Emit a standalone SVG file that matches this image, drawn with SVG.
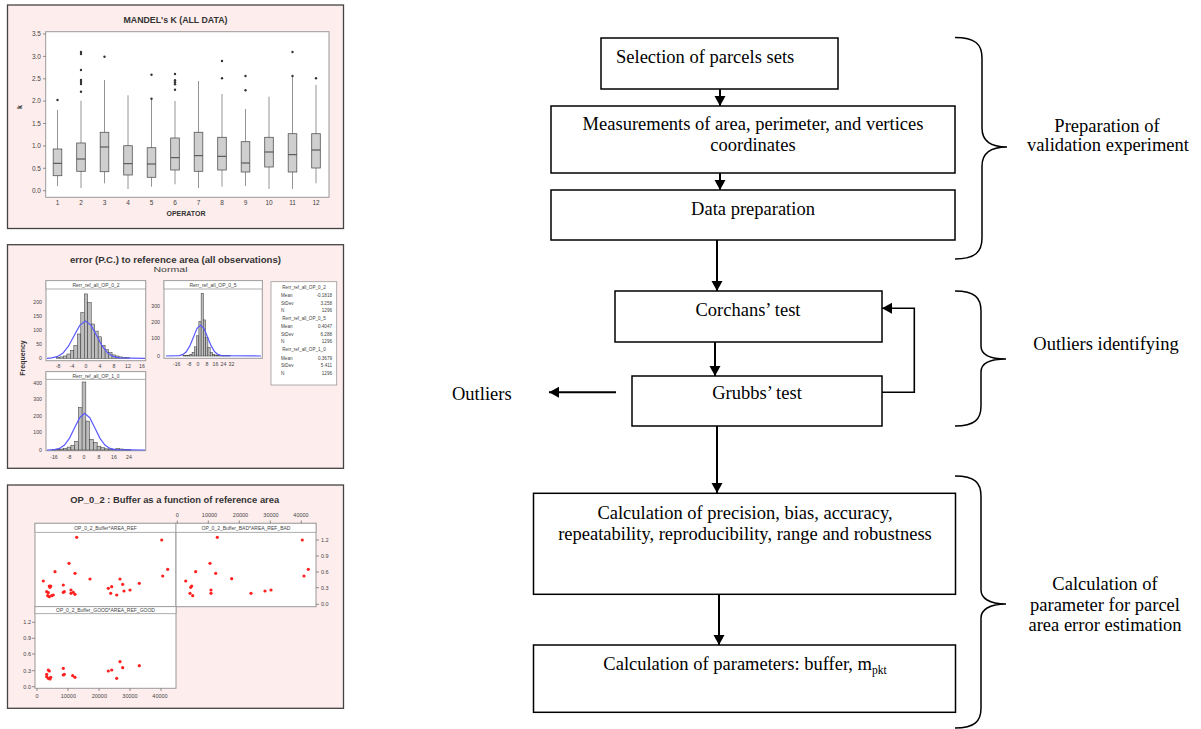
<svg xmlns="http://www.w3.org/2000/svg" width="1201" height="729" viewBox="0 0 1201 729">
<style>
.panel{fill:#fdeded;stroke:#444;stroke-width:1.3}
.plot{fill:#fff;stroke:#999;stroke-width:1}
.hdr{fill:#fff;stroke:#999;stroke-width:0.8}
.t{font-family:"Liberation Sans",Arial,sans-serif;fill:#444}
.tb{font-family:"Liberation Sans",Arial,sans-serif;fill:#333;font-weight:bold}
.box{fill:#cfcfcf;stroke:#555;stroke-width:0.8}
.wh{stroke:#888;stroke-width:0.9}
.med{stroke:#444;stroke-width:1}
.out{fill:#333}
.bar{fill:#bdbdbd;stroke:#333;stroke-width:0.5}
.curve{fill:none;stroke:#5a5aff;stroke-width:1.2}
.pt{fill:#ff2020}
.tick{stroke:#666;stroke-width:0.7}
.node rect{fill:#fff;stroke:#000;stroke-width:1.5}
.ft{font-family:"Liberation Serif","Times New Roman",serif;font-size:18.5px;fill:#000}
.conn{stroke:#000;stroke-width:2;fill:none}
.brace{stroke:#000;stroke-width:1.5;fill:none}
</style>
<defs>
<marker id="arr" markerUnits="userSpaceOnUse" markerWidth="11" markerHeight="12" refX="10" refY="5.5" orient="auto">
<path d="M0,0 L10,5.5 L0,11 z" fill="#000"/>
</marker>
</defs>
<rect width="1201" height="729" fill="#fff"/>

<!-- Chart 1: Mandel's k -->
<g id="chart-mandel">
<rect class="panel" x="7.5" y="5" width="336" height="223.5"/>
<text class="tb" x="175.5" y="23" font-size="8.5" text-anchor="middle" textLength="104" lengthAdjust="spacingAndGlyphs">MANDEL's K (ALL DATA)</text>
<rect class="plot" x="45.7" y="31.7" width="283.3" height="165.6"/>
<g class="t" font-size="6.5" text-anchor="end">
<text x="41" y="36.3">3.5</text><text x="41" y="58.7">3.0</text><text x="41" y="81.1">2.5</text><text x="41" y="103.4">2.0</text>
<text x="41" y="125.8">1.5</text><text x="41" y="148.3">1.0</text><text x="41" y="170.6">0.5</text><text x="41" y="193">0.0</text>
</g>
<g class="tick">
<line x1="43" y1="34" x2="45.7" y2="34"/><line x1="43" y1="56.4" x2="45.7" y2="56.4"/><line x1="43" y1="78.8" x2="45.7" y2="78.8"/><line x1="43" y1="101.1" x2="45.7" y2="101.1"/>
<line x1="43" y1="123.5" x2="45.7" y2="123.5"/><line x1="43" y1="146" x2="45.7" y2="146"/><line x1="43" y1="168.3" x2="45.7" y2="168.3"/><line x1="43" y1="190.7" x2="45.7" y2="190.7"/>
</g>
<text class="tb" font-size="7" transform="translate(21.5,107) rotate(-90)" text-anchor="middle">k</text>
<g class="t" font-size="6.5" text-anchor="middle">
<text x="57.5" y="205">1</text><text x="81" y="205">2</text><text x="104.5" y="205">3</text><text x="128" y="205">4</text>
<text x="151.5" y="205">5</text><text x="175" y="205">6</text><text x="198.5" y="205">7</text><text x="222" y="205">8</text>
<text x="245.5" y="205">9</text><text x="269" y="205">10</text><text x="292.5" y="205">11</text><text x="316" y="205">12</text>
</g>
<text class="tb" x="186" y="215.5" font-size="6.5" text-anchor="middle" textLength="39" lengthAdjust="spacingAndGlyphs">OPERATOR</text>
<g class="wh">
<line x1="57.5" y1="110" x2="57.5" y2="186"/><line x1="81" y1="100.7" x2="81" y2="188"/><line x1="104.5" y1="80" x2="104.5" y2="183.3"/>
<line x1="128" y1="95.3" x2="128" y2="189"/><line x1="151.5" y1="100" x2="151.5" y2="186.7"/><line x1="175" y1="101" x2="175" y2="184.3"/>
<line x1="198.5" y1="81" x2="198.5" y2="188"/><line x1="222" y1="94" x2="222" y2="186.7"/><line x1="245.5" y1="109" x2="245.5" y2="186"/>
<line x1="269" y1="96.7" x2="269" y2="189"/><line x1="292.5" y1="76" x2="292.5" y2="189"/><line x1="316" y1="85" x2="316" y2="183.3"/>
</g>
<g>
<rect class="box" x="53.2" y="149" width="8.6" height="26.7"/><rect class="box" x="76.7" y="143" width="8.6" height="28.3"/>
<rect class="box" x="100.2" y="132.3" width="8.6" height="39.4"/><rect class="box" x="123.7" y="145.7" width="8.6" height="29.3"/>
<rect class="box" x="147.2" y="147.7" width="8.6" height="29.6"/><rect class="box" x="170.7" y="138" width="8.6" height="32"/>
<rect class="box" x="194.2" y="132.3" width="8.6" height="39"/><rect class="box" x="217.7" y="137.3" width="8.6" height="32.7"/>
<rect class="box" x="241.2" y="141.7" width="8.6" height="30.3"/><rect class="box" x="264.7" y="137.3" width="8.6" height="29.7"/>
<rect class="box" x="288.2" y="133.7" width="8.6" height="38.3"/><rect class="box" x="311.7" y="133.7" width="8.6" height="34.3"/>
</g>
<g class="med">
<line x1="53.2" y1="163.3" x2="61.8" y2="163.3"/><line x1="76.7" y1="159" x2="85.3" y2="159"/><line x1="100.2" y1="147" x2="108.8" y2="147"/>
<line x1="123.7" y1="163.7" x2="132.3" y2="163.7"/><line x1="147.2" y1="164" x2="155.8" y2="164"/><line x1="170.7" y1="157.7" x2="179.3" y2="157.7"/>
<line x1="194.2" y1="155.7" x2="202.8" y2="155.7"/><line x1="217.7" y1="156.3" x2="226.3" y2="156.3"/><line x1="241.2" y1="163" x2="249.8" y2="163"/>
<line x1="264.7" y1="152" x2="273.3" y2="152"/><line x1="288.2" y1="154.7" x2="296.8" y2="154.7"/><line x1="311.7" y1="150" x2="320.3" y2="150"/>
</g>
<g class="out">
<circle cx="57.5" cy="100" r="1.2"/>
<circle cx="81" cy="52" r="1.2"/><circle cx="81" cy="54" r="1.2"/><circle cx="81" cy="70" r="1.2"/><circle cx="81" cy="80" r="1.2"/><circle cx="81" cy="82" r="1.2"/><circle cx="81" cy="84" r="1.2"/><circle cx="81" cy="91.7" r="1.2"/>
<circle cx="104.5" cy="56.7" r="1.2"/>
<circle cx="151.5" cy="74.7" r="1.2"/><circle cx="151.5" cy="98.7" r="1.2"/>
<circle cx="175" cy="74" r="1.2"/><circle cx="175" cy="80.3" r="1.2"/><circle cx="175" cy="82.2" r="1.2"/><circle cx="175" cy="84.3" r="1.2"/><circle cx="175" cy="89.7" r="1.2"/>
<circle cx="222" cy="61" r="1.2"/><circle cx="222" cy="78.3" r="1.2"/>
<circle cx="245.5" cy="76" r="1.2"/><circle cx="245.5" cy="90.3" r="1.2"/>
<circle cx="292.5" cy="52" r="1.2"/><circle cx="292.5" cy="76" r="1.2"/>
<circle cx="316" cy="78.3" r="1.2"/>
</g>
</g>

<!-- Chart 2: histograms -->
<g id="chart-hist">
<rect class="panel" x="7.5" y="244.7" width="336" height="223.6"/>
<text class="tb" x="175.5" y="263" font-size="9" text-anchor="middle" textLength="211" lengthAdjust="spacingAndGlyphs">error (P.C.) to reference area (all observations)</text>
<text class="t" x="170.5" y="272" font-size="6.5" text-anchor="middle" textLength="34" lengthAdjust="spacingAndGlyphs">Normal</text>
<text class="tb" font-size="7" transform="translate(24.5,358) rotate(-90)" text-anchor="middle">Frequency</text>
<!-- subplot A -->
<rect class="plot" x="46" y="280.7" width="99.7" height="80"/>
<rect class="hdr" x="46" y="280.7" width="99.7" height="8.3"/>
<text class="t" x="96" y="287" font-size="5" text-anchor="middle">Rerr_ref_all_OP_0_2</text>
<g class="t" font-size="5.2" text-anchor="end">
<text x="42" y="303.5">200</text><text x="42" y="317.5">150</text><text x="42" y="331.8">100</text><text x="42" y="346.1">50</text><text x="42" y="360.1">0</text>
</g>
<g class="t" font-size="5.2" text-anchor="middle">
<text x="58" y="368">-8</text><text x="72" y="368">-4</text><text x="86" y="368">0</text><text x="100" y="368">4</text><text x="114" y="368">8</text><text x="128" y="368">12</text><text x="142" y="368">16</text>
</g>
<g class="bar">
<rect x="56.46" y="357.4" width="3.475" height="0.9"/><rect x="59.94" y="356.9" width="3.475" height="1.4"/><rect x="63.41" y="356" width="3.475" height="2.3"/>
<rect x="66.89" y="354" width="3.475" height="4.3"/><rect x="70.36" y="350.3" width="3.475" height="8"/><rect x="73.84" y="345.4" width="3.475" height="12.9"/>
<rect x="77.31" y="334" width="3.475" height="24.3"/><rect x="80.79" y="312.5" width="3.475" height="45.8"/><rect x="84.26" y="293.9" width="3.475" height="64.4"/>
<rect x="87.74" y="302.5" width="3.475" height="55.8"/><rect x="91.21" y="324" width="3.475" height="34.3"/><rect x="94.69" y="331.1" width="3.475" height="27.2"/>
<rect x="98.16" y="336.8" width="3.475" height="21.5"/><rect x="101.64" y="345.4" width="3.475" height="12.9"/><rect x="105.11" y="349.7" width="3.475" height="8.6"/>
<rect x="108.59" y="352.6" width="3.475" height="5.7"/><rect x="112.06" y="354.9" width="3.475" height="3.4"/><rect x="115.54" y="356" width="3.475" height="2.3"/>
<rect x="119.01" y="356.9" width="3.475" height="1.4"/><rect x="122.49" y="357.4" width="3.475" height="0.9"/><rect x="125.96" y="357.7" width="3.475" height="0.6"/>
</g>
<polyline class="curve" points="47,358.3 51.5,357.9 57.15,356.7 62.8,353.3 68.45,346.2 74.1,335.7 79.75,325.4 85.4,321 91.05,325.4 96.7,335.7 102.35,346.2 108,353.3 113.65,356.7 119.3,357.9 145,358.3"/>
<!-- subplot B -->
<rect class="plot" x="164" y="280.7" width="98.3" height="77.6"/>
<rect class="hdr" x="164" y="280.7" width="98.3" height="8.3"/>
<text class="t" x="213" y="287" font-size="5" text-anchor="middle">Rerr_ref_all_OP_0_5</text>
<g class="t" font-size="5.2" text-anchor="end">
<text x="160" y="307.5">300</text><text x="160" y="323.5">200</text><text x="160" y="339.5">100</text><text x="160" y="357.8">0</text>
</g>
<g class="t" font-size="5.2" text-anchor="middle">
<text x="176.7" y="366">-16</text><text x="189" y="366">-8</text><text x="198" y="366">0</text><text x="207" y="366">8</text><text x="215.5" y="366">16</text><text x="223.5" y="366">24</text><text x="231.5" y="366">32</text>
</g>
<g class="bar">
<rect x="183.05" y="355.6" width="2.26" height="0.4"/><rect x="185.31" y="355.5" width="2.26" height="0.5"/><rect x="187.57" y="355.2" width="2.26" height="0.8"/>
<rect x="189.83" y="354.3" width="2.26" height="1.7"/><rect x="192.09" y="352.3" width="2.26" height="3.7"/><rect x="194.35" y="346.8" width="2.26" height="9.2"/>
<rect x="196.61" y="335.8" width="2.26" height="20.2"/><rect x="198.87" y="321.6" width="2.26" height="34.4"/><rect x="201.13" y="293.3" width="2.26" height="62.7"/>
<rect x="203.39" y="319.9" width="2.26" height="36.1"/><rect x="205.65" y="337.5" width="2.26" height="18.5"/><rect x="207.91" y="347.6" width="2.26" height="8.4"/>
<rect x="210.17" y="352.3" width="2.26" height="3.7"/><rect x="212.43" y="354.3" width="2.26" height="1.7"/><rect x="214.69" y="355" width="2.26" height="1"/>
<rect x="216.95" y="355.3" width="2.26" height="0.7"/><rect x="219.21" y="355.5" width="2.26" height="0.5"/><rect x="221.47" y="355.6" width="2.26" height="0.4"/>
<rect x="223.73" y="355.6" width="2.26" height="0.4"/><rect x="226" y="355.6" width="2.26" height="0.4"/><rect x="228.25" y="355.6" width="2.26" height="0.4"/>
</g>
<polyline class="curve" points="166,356 179.2,355.66 182.75,354.6 186.3,351.8 189.85,345.9 193.4,337.2 196.95,328.6 200.5,325 204.05,328.6 207.6,337.2 211.15,345.9 214.7,351.8 218.25,354.6 221.8,355.66 261,356"/>
<!-- subplot C -->
<rect class="plot" x="46" y="371.7" width="99.7" height="79"/>
<rect class="hdr" x="46" y="371.7" width="99.7" height="7.6"/>
<text class="t" x="96" y="377.6" font-size="5" text-anchor="middle">Rerr_ref_all_OP_1_0</text>
<g class="t" font-size="5.2" text-anchor="end">
<text x="42" y="384.5">400</text><text x="42" y="401">300</text><text x="42" y="417.5">200</text><text x="42" y="434">100</text><text x="42" y="451.8">0</text>
</g>
<g class="t" font-size="5.2" text-anchor="middle">
<text x="54" y="459">-16</text><text x="69" y="459">-8</text><text x="84" y="459">0</text><text x="99" y="459">8</text><text x="114" y="459">16</text><text x="129" y="459">24</text>
</g>
<g class="bar">
<rect x="52.1" y="449.6" width="3.75" height="0.4"/><rect x="55.9" y="449.4" width="3.75" height="0.6"/><rect x="59.6" y="449" width="3.75" height="1"/>
<rect x="63.4" y="448.5" width="3.75" height="1.5"/><rect x="67.1" y="447.1" width="3.75" height="2.9"/><rect x="70.9" y="445.2" width="3.75" height="4.8"/>
<rect x="74.6" y="441.3" width="3.75" height="8.7"/><rect x="78.4" y="407.5" width="3.75" height="42.5"/><rect x="82.1" y="382" width="3.75" height="68"/>
<rect x="85.9" y="421.1" width="3.75" height="28.9"/><rect x="89.6" y="439.4" width="3.75" height="10.6"/><rect x="93.4" y="442.3" width="3.75" height="7.7"/>
<rect x="97.1" y="446.2" width="3.75" height="3.8"/><rect x="100.9" y="447.7" width="3.75" height="2.3"/><rect x="104.6" y="448.8" width="3.75" height="1.2"/>
<rect x="108.4" y="449" width="3.75" height="1"/><rect x="112.1" y="449.2" width="3.75" height="0.8"/><rect x="115.9" y="448.5" width="3.75" height="1.5"/>
<rect x="119.6" y="449" width="3.75" height="1"/><rect x="123.4" y="449.4" width="3.75" height="0.6"/><rect x="127.1" y="449.6" width="3.75" height="0.4"/>
</g>
<polyline class="curve" points="47,450 54.4,449.6 59.45,448.4 64.5,445.05 69.55,438.1 74.6,427.8 79.65,417.7 84.7,413.4 89.75,417.7 94.8,427.8 99.85,438.1 104.9,445.05 109.95,448.4 115,449.6 145,450"/>
<!-- stats legend -->
<rect x="271" y="281.7" width="65.7" height="103.3" fill="#fff" stroke="#999" stroke-width="0.8"/>
<g class="t" font-size="4.6">
<text x="304" y="289" text-anchor="middle">Rerr_ref_all_OP_0_2</text>
<text x="281" y="297.3">Mean</text><text x="332" y="297.3" text-anchor="end">-0.1818</text>
<text x="281" y="304.6">StDev</text><text x="332" y="304.6" text-anchor="end">3.258</text>
<text x="281" y="312">N</text><text x="332" y="312" text-anchor="end">1296</text>
<text x="304" y="320.3" text-anchor="middle">Rerr_ref_all_OP_0_5</text>
<text x="281" y="328">Mean</text><text x="332" y="328" text-anchor="end">0.4047</text>
<text x="281" y="335.6">StDev</text><text x="332" y="335.6" text-anchor="end">6.288</text>
<text x="281" y="343">N</text><text x="332" y="343" text-anchor="end">1296</text>
<text x="304" y="351.3" text-anchor="middle">Rerr_ref_all_OP_1_0</text>
<text x="281" y="359.6">Mean</text><text x="332" y="359.6" text-anchor="end">0.3679</text>
<text x="281" y="367.3">StDev</text><text x="332" y="367.3" text-anchor="end">5.411</text>
<text x="281" y="374.6">N</text><text x="332" y="374.6" text-anchor="end">1296</text>
</g>
</g>

<!-- Chart 3: scatter -->
<g id="chart-scatter">
<rect class="panel" x="7.5" y="485" width="336" height="223.3"/>
<text class="tb" x="174.7" y="503" font-size="9" text-anchor="middle" textLength="209" lengthAdjust="spacingAndGlyphs">OP_0_2 : Buffer as a function of reference area</text>
<g class="t" font-size="5.5" text-anchor="middle">
<text x="177.3" y="517">0</text><text x="209.5" y="517">10000</text><text x="240.5" y="517">20000</text><text x="271" y="517">30000</text><text x="301" y="517">40000</text>
</g>
<rect class="plot" x="35" y="523.3" width="141" height="83.4"/>
<rect class="plot" x="176" y="523.3" width="140" height="83.4"/>
<rect class="plot" x="35" y="606.7" width="141" height="81.6"/>
<rect class="hdr" x="35" y="523.3" width="141" height="9"/>
<rect class="hdr" x="176" y="523.3" width="140" height="9"/>
<rect class="hdr" x="35" y="606.7" width="141" height="7"/>
<g class="t" font-size="5" text-anchor="middle">
<text x="105.5" y="530">OP_0_2_Buffer*AREA_REF</text>
<text x="246" y="530">OP_0_2_Buffer_BAD*AREA_REF_BAD</text>
<text x="105.5" y="612.3">OP_0_2_Buffer_GOOD*AREA_REF_GOOD</text>
</g>
<g class="t" font-size="5.5">
<text x="321" y="542">1.2</text><text x="321" y="558">0.9</text><text x="321" y="574">0.6</text><text x="321" y="590">0.3</text><text x="321" y="606">0.0</text>
</g>
<g class="t" font-size="5.5" text-anchor="end">
<text x="31" y="624.3">1.2</text><text x="31" y="640.3">0.9</text><text x="31" y="656">0.6</text><text x="31" y="672.7">0.3</text><text x="31" y="688.7">0.0</text>
</g>
<g class="t" font-size="5.5" text-anchor="middle">
<text x="37" y="697.5">0</text><text x="68.3" y="697.5">10000</text><text x="99.3" y="697.5">20000</text><text x="130" y="697.5">30000</text><text x="160" y="697.5">40000</text>
</g>
<g class="tick">
<line x1="316" y1="540" x2="319" y2="540"/><line x1="316" y1="556" x2="319" y2="556"/><line x1="316" y1="572" x2="319" y2="572"/><line x1="316" y1="587.7" x2="319" y2="587.7"/><line x1="316" y1="604.3" x2="319" y2="604.3"/>
<line x1="32" y1="622.3" x2="35" y2="622.3"/><line x1="32" y1="638.3" x2="35" y2="638.3"/><line x1="32" y1="654" x2="35" y2="654"/><line x1="32" y1="670.7" x2="35" y2="670.7"/><line x1="32" y1="686.7" x2="35" y2="686.7"/>
<line x1="177.3" y1="520.5" x2="177.3" y2="523.3"/><line x1="208.3" y1="520.5" x2="208.3" y2="523.3"/><line x1="239.3" y1="520.5" x2="239.3" y2="523.3"/><line x1="270.3" y1="520.5" x2="270.3" y2="523.3"/><line x1="301.3" y1="520.5" x2="301.3" y2="523.3"/>
<line x1="37" y1="688.3" x2="37" y2="691"/><line x1="68" y1="688.3" x2="68" y2="691"/><line x1="99" y1="688.3" x2="99" y2="691"/><line x1="130" y1="688.3" x2="130" y2="691"/><line x1="161" y1="688.3" x2="161" y2="691"/>
</g>
<g class="pt">
<circle cx="43.3" cy="581" r="1.6"/><circle cx="49.3" cy="586" r="1.6"/><circle cx="50.7" cy="586" r="1.6"/><circle cx="46.7" cy="591.7" r="1.6"/><circle cx="48.3" cy="592.7" r="1.6"/>
<circle cx="50" cy="587.3" r="1.6"/><circle cx="47.7" cy="595.7" r="1.6"/><circle cx="49.3" cy="596.7" r="1.6"/><circle cx="51.7" cy="595.7" r="1.6"/><circle cx="53.3" cy="595" r="1.6"/>
<circle cx="55" cy="571.7" r="1.6"/><circle cx="63.3" cy="585" r="1.6"/><circle cx="63.3" cy="592.3" r="1.6"/><circle cx="64.3" cy="591.7" r="1.6"/><circle cx="69" cy="563.3" r="1.6"/>
<circle cx="71" cy="590" r="1.6"/><circle cx="71" cy="593.3" r="1.6"/><circle cx="73.3" cy="592.3" r="1.6"/><circle cx="75" cy="594.3" r="1.6"/><circle cx="75" cy="573.3" r="1.6"/>
<circle cx="76.7" cy="537.3" r="1.6"/><circle cx="90" cy="579" r="1.6"/><circle cx="108.3" cy="588.3" r="1.6"/><circle cx="111.7" cy="586.7" r="1.6"/><circle cx="110.7" cy="593.3" r="1.6"/>
<circle cx="116.7" cy="595" r="1.6"/><circle cx="120" cy="579" r="1.6"/><circle cx="122.7" cy="584.3" r="1.6"/><circle cx="124" cy="591" r="1.6"/><circle cx="130" cy="590" r="1.6"/>
<circle cx="139.3" cy="583.3" r="1.6"/><circle cx="161.7" cy="540" r="1.6"/><circle cx="162.7" cy="576" r="1.6"/><circle cx="167.7" cy="569.3" r="1.6"/>
<circle cx="185.7" cy="581" r="1.6"/><circle cx="190.7" cy="587.3" r="1.6"/><circle cx="191.7" cy="586" r="1.6"/><circle cx="190" cy="593.3" r="1.6"/><circle cx="192.7" cy="595.7" r="1.6"/>
<circle cx="195.7" cy="571.7" r="1.6"/><circle cx="210" cy="563.3" r="1.6"/><circle cx="211" cy="590" r="1.6"/><circle cx="211" cy="593.3" r="1.6"/><circle cx="215.7" cy="573.3" r="1.6"/>
<circle cx="217.3" cy="537.3" r="1.6"/><circle cx="231.7" cy="578.7" r="1.6"/><circle cx="251" cy="593.3" r="1.6"/><circle cx="265" cy="591" r="1.6"/><circle cx="271" cy="590" r="1.6"/>
<circle cx="302.3" cy="540" r="1.6"/><circle cx="304" cy="576" r="1.6"/><circle cx="308.3" cy="569.3" r="1.6"/>
<circle cx="46.7" cy="674.3" r="1.6"/><circle cx="48.3" cy="670" r="1.6"/><circle cx="49.3" cy="671" r="1.6"/><circle cx="46.7" cy="676.7" r="1.6"/><circle cx="48.3" cy="678.3" r="1.6"/>
<circle cx="50" cy="679" r="1.6"/><circle cx="50.7" cy="677.3" r="1.6"/><circle cx="63.3" cy="668.3" r="1.6"/><circle cx="63.3" cy="675" r="1.6"/><circle cx="64.3" cy="674.3" r="1.6"/>
<circle cx="72.7" cy="675.7" r="1.6"/><circle cx="75" cy="677.3" r="1.6"/><circle cx="108.3" cy="671" r="1.6"/><circle cx="111.7" cy="670" r="1.6"/><circle cx="116.7" cy="678.3" r="1.6"/>
<circle cx="120" cy="661.7" r="1.6"/><circle cx="122.7" cy="667.7" r="1.6"/><circle cx="139.3" cy="665.7" r="1.6"/>
</g>
</g>

<!-- Flowchart connectors -->
<g id="connectors">
<line class="conn" x1="720" y1="89" x2="720" y2="106" marker-end="url(#arr)"/>
<line class="conn" x1="720" y1="173" x2="720" y2="190" marker-end="url(#arr)"/>
<line class="conn" x1="717" y1="240" x2="717" y2="291" marker-end="url(#arr)"/>
<line class="conn" x1="715" y1="342" x2="715" y2="376" marker-end="url(#arr)"/>
<line class="conn" x1="717" y1="426" x2="717" y2="493" marker-end="url(#arr)"/>
<line class="conn" x1="719" y1="594" x2="719" y2="645" marker-end="url(#arr)"/>
<line class="conn" x1="616" y1="392.3" x2="549" y2="392.3" marker-end="url(#arr)"/>
<polyline class="conn" style="stroke-width:1.6" points="882,392.3 914.3,392.3 914.3,308.3 882,308.3" marker-end="url(#arr)"/>
</g>

<!-- Flowchart nodes -->
<g id="n-selection" class="node">
<rect x="601" y="38" width="237" height="51"/>
<text class="ft" x="616" y="63.3">Selection of parcels sets</text>
</g>
<g id="n-measurements" class="node">
<rect x="551" y="106" width="404" height="67"/>
<text class="ft" x="753" y="130" text-anchor="middle">Measurements of area, perimeter, and vertices</text>
<text class="ft" x="753" y="151" text-anchor="middle">coordinates</text>
</g>
<g id="n-dataprep" class="node">
<rect x="551" y="190" width="404" height="50"/>
<text class="ft" x="753" y="215" text-anchor="middle">Data preparation</text>
</g>
<g id="n-corchans" class="node">
<rect x="615" y="291" width="267" height="51"/>
<text class="ft" x="748" y="316" text-anchor="middle">Corchans’ test</text>
</g>
<g id="n-grubbs" class="node">
<rect x="632" y="376" width="250" height="50"/>
<text class="ft" x="757" y="399" text-anchor="middle">Grubbs’ test</text>
</g>
<g id="n-outliers">
<text class="ft" x="452" y="399.5">Outliers</text>
</g>
<g id="n-calc1" class="node">
<rect x="533.5" y="493.3" width="422" height="101"/>
<text class="ft" x="745" y="518.5" text-anchor="middle">Calculation of precision, bias, accuracy,</text>
<text class="ft" x="745" y="539.5" text-anchor="middle">repeatability, reproducibility, range and robustness</text>
</g>
<g id="n-calc2" class="node">
<rect x="533.5" y="645" width="422" height="67.3"/>
<text class="ft" x="745" y="670" text-anchor="middle">Calculation of parameters: buffer, m<tspan font-size="11.5" dy="4">pkt</tspan></text>
</g>

<!-- Braces and group labels -->
<g id="g-preparation">
<path class="brace" d="M955,37.5 C975,37.5 982,44 982,58 L982,128 C982,140 990,147 1007,147 C990,147 982,154 982,166 L982,238 C982,252 975,259 955,259"/>
<text class="ft" x="1107" y="131.7" text-anchor="middle">Preparation of</text>
<text class="ft" x="1108" y="151" text-anchor="middle">validation experiment</text>
</g>
<g id="g-outliers">
<path class="brace" d="M955,291 C975,291 981,298 981,311 L981,346 C981,354 989,359 1006,359 C989,359 981,364 981,372 L981,406 C981,419 975,426 955,426"/>
<text class="ft" x="1106" y="350" text-anchor="middle">Outliers identifying</text>
</g>
<g id="g-calculation">
<path class="brace" d="M955,476 C975,476 981,483 981,496 L981,590 C981,598 989,604 1006,604 C989,604 981,610 981,618 L981,708 C981,721 975,728 955,728"/>
<text class="ft" x="1105" y="590" text-anchor="middle">Calculation of</text>
<text class="ft" x="1105" y="610.5" text-anchor="middle">parameter for parcel</text>
<text class="ft" x="1105" y="630.7" text-anchor="middle">area error estimation</text>
</g>
</svg>
